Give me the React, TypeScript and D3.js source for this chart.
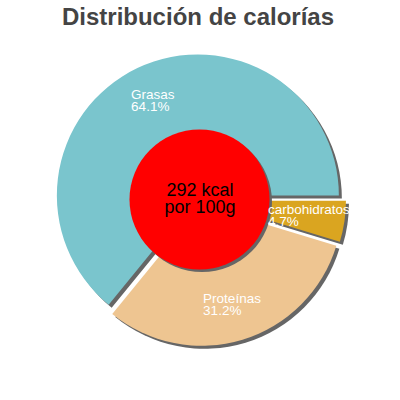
import { useEffect, useRef } from 'react'
import * as d3 from 'd3'

// slice order starts at 3 o'clock: carbohidratos, Proteínas, Grasas
const labels = ['carbohidratos', 'Proteínas', 'Grasas']
const percents = [4.7, 31.2, 64.1]
const colors = ['#DAA520', '#EEC591', '#7AC5CD']
const title = 'Distribución de calorías'
const centerLines = ['292 kcal', 'por 100g']

export default function App() {
  const svgRef = useRef<SVGSVGElement>(null)

  useEffect(() => {
    if (!svgRef.current) return
    const width = 400
    const height = 400
    const cx = 200
    const cy = 200
    const radius = 141
    const explode = 5
    const shadow = 3

    const svg = d3.select(svgRef.current)
    svg.selectAll('*').remove()
    svg.attr('width', width).attr('height', height)

    svg.append('text')
      .attr('x', 198).attr('y', 25)
      .attr('text-anchor', 'middle')
      .attr('font-family', 'Liberation Sans, Arial, sans-serif')
      .attr('font-weight', 'bold')
      .attr('font-size', '24px')
      .attr('fill', '#444444')
      .text(title)

    const data = labels.map((label, i) => ({ label, value: percents[i], color: colors[i] }))
    type Datum = typeof data[number]

    const pie = d3.pie<Datum>()
      .value(d => d.value)
      .sort(null)
      .startAngle(Math.PI / 2)
      .endAngle(Math.PI / 2 + 2 * Math.PI)
    const arcs = pie(data)

    const arc = d3.arc<d3.PieArcDatum<Datum>>().innerRadius(0).outerRadius(radius)
    const labelArc = d3.arc<d3.PieArcDatum<Datum>>().innerRadius(105).outerRadius(105)

    const offset = (d: d3.PieArcDatum<Datum>) => {
      const mid = (d.startAngle + d.endAngle) / 2
      return [Math.sin(mid) * explode, -Math.cos(mid) * explode]
    }

    const g = svg.append('g').attr('transform', `translate(${cx},${cy})`)

    // Shadows
    g.selectAll('path.shadow')
      .data(arcs)
      .enter().append('path')
      .attr('class', 'shadow')
      .attr('transform', d => {
        const [dx, dy] = offset(d)
        return `translate(${dx + shadow},${dy + shadow})`
      })
      .attr('fill', '#666666')
      .attr('d', arc)

    // Slices
    g.selectAll('path.slice')
      .data(arcs)
      .enter().append('path')
      .attr('class', 'slice')
      .attr('transform', d => {
        const [dx, dy] = offset(d)
        return `translate(${dx},${dy})`
      })
      .attr('fill', d => d.data.color)
      .attr('d', arc)

    // Center circle
    g.append('circle').attr('cx', shadow - 1).attr('cy', shadow - 1).attr('r', 70).attr('fill', '#666666')
    g.append('circle').attr('cx', -0.5).attr('cy', -0.5).attr('r', 70).attr('fill', '#ff0000')

    centerLines.forEach((line, i) => {
      g.append('text')
        .attr('x', 0).attr('y', -4 + i * 17)
        .attr('text-anchor', 'middle')
        .attr('font-family', 'Liberation Sans, Arial, sans-serif')
        .attr('font-size', '18px')
        .attr('fill', '#000000')
        .text(line)
    })

    // Labels
    arcs.forEach(d => {
      const [dx, dy] = offset(d)
      const [lx, ly] = labelArc.centroid(d)
      const lg = g.append('g')
      const lines = [d.data.label, `${d.data.value.toFixed(1)}%`]
      const texts = lines.map((line, i) =>
        lg.append('text')
          .attr('y', ly + dy - 2 + i * 12)
          .attr('font-family', 'Liberation Sans, Arial, sans-serif')
          .attr('font-size', '13.5px')
          .attr('fill', '#ffffff')
          .text(line)
      )
      const maxW = d3.max(texts, t => (t.node() as SVGTextElement).getComputedTextLength()) ?? 0
      texts.forEach(t => t.attr('x', lx + dx - maxW / 2))
    })
  }, [])

  return (
    <div style={{ position: 'absolute', left: 0, top: 0 }}>
      <svg ref={svgRef} />
    </div>
  )
}
